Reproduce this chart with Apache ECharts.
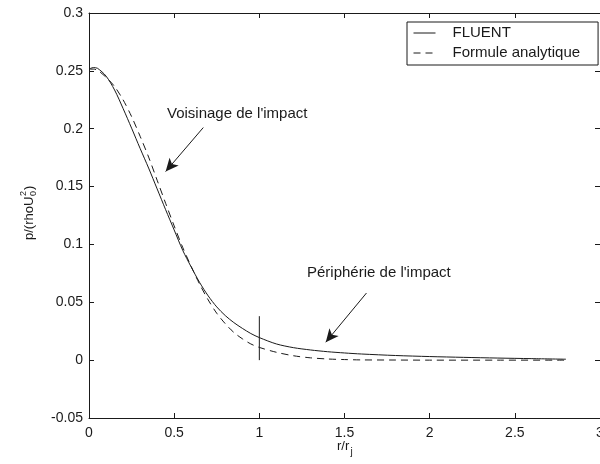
<!DOCTYPE html>
<html>
<head>
<meta charset="utf-8">
<script src="https://cdn.jsdelivr.net/npm/echarts@6/dist/echarts.min.js"></script>
<style>html,body{margin:0;padding:0;background:#fff}#c{width:600px;height:464px}</style>
</head>
<body>
<div id="c"></div>
<script>
// r/rj sample positions
const rFluent = [0,0.025,0.05,0.1,0.15,0.2,0.25,0.3,0.35,0.4,0.45,0.5,0.55,0.6,0.65,0.7,0.75,0.8,0.85,0.9,0.95,1.0,1.1,1.2,1.3,1.4,1.5,1.6,1.8,2.0,2.2,2.4,2.6,2.8];
const pFluent = [0.2515,0.2528,0.2522,0.2455,0.2335,0.2175,0.2005,0.1830,0.1660,0.1480,0.1300,0.1125,0.0950,0.0805,0.0670,0.0555,0.0460,0.0385,0.0325,0.0275,0.0230,0.0195,0.0140,0.0108,0.0088,0.0073,0.0062,0.0053,0.0040,0.0031,0.0024,0.0018,0.0013,0.0008];
const rAnalytique = [0,0.025,0.05,0.1,0.15,0.2,0.25,0.3,0.35,0.4,0.45,0.5,0.55,0.6,0.65,0.7,0.75,0.8,0.85,0.9,0.95,1.0,1.1,1.2,1.3,1.4,1.5,1.6,1.8,2.0,2.4,2.8];
const pAnalytique = [0.2515,0.2515,0.2505,0.2445,0.2365,0.2250,0.2105,0.1935,0.1755,0.1555,0.1355,0.1160,0.0975,0.0810,0.0655,0.0520,0.0405,0.0315,0.0240,0.0185,0.0140,0.0110,0.0068,0.0038,0.0020,0.0010,0.0005,0.0002,0.0001,0,0,0];
const markerR = [1, 1];
const markerP = [0, 0.038];
const seriesNames = ['FLUENT', 'Formule analytique'];
const xTicks = {min: 0, max: 3, interval: 0.5};
const yTicks = {min: -0.05, max: 0.3, interval: 0.05};

const zip = (a, b) => a.map((v, i) => [v, b[i]]);
const FONT = '"Liberation Sans", Arial, sans-serif';
const INK = '#1a1a1a';

const chart = echarts.init(document.getElementById('c'), null, {renderer: 'canvas'});
const baseAxis = {
  axisLine: {show: true, onZero: false, lineStyle: {color: INK, width: 1}},
  axisTick: {show: true, inside: true, length: 5, lineStyle: {color: INK}},
  splitLine: {show: false},
  axisLabel: {color: INK, fontFamily: FONT, fontSize: 14}
};
chart.setOption({
  animation: false,
  backgroundColor: '#fff',
  grid: {left: 89, top: 13, width: 511, height: 405, containLabel: false, outerBoundsMode: 'none'},
  xAxis: [
    Object.assign({}, baseAxis, {type: 'value', position: 'bottom', min: xTicks.min, max: xTicks.max, interval: xTicks.interval,
      axisLabel: Object.assign({}, baseAxis.axisLabel, {margin: 8})}),
    Object.assign({}, baseAxis, {type: 'value', position: 'top', min: xTicks.min, max: xTicks.max, interval: xTicks.interval,
      axisLabel: {show: false}})
  ],
  yAxis: [
    Object.assign({}, baseAxis, {type: 'value', position: 'left', min: yTicks.min, max: yTicks.max, interval: yTicks.interval,
      axisLabel: Object.assign({}, baseAxis.axisLabel, {margin: 6})}),
    Object.assign({}, baseAxis, {type: 'value', position: 'right', min: yTicks.min, max: yTicks.max, interval: yTicks.interval,
      axisLabel: {show: false}})
  ],
  legend: {
    data: seriesNames,
    orient: 'vertical',
    left: 407, top: 22,
    backgroundColor: '#fff',
    borderColor: INK, borderWidth: 1, borderRadius: 0,
    padding: [3, 18, 4, 6],
    itemGap: 4,
    itemWidth: 22, itemHeight: 8,
    itemStyle: {opacity: 0},
    lineStyle: {width: 1},
    textStyle: {fontFamily: FONT, fontSize: 15, color: INK, lineHeight: 16, padding: [0, 0, 0, 12]}
  },
  series: [
    {name: seriesNames[0], type: 'line', data: zip(rFluent, pFluent), symbol: 'none', smooth: 0.3,
      lineStyle: {color: INK, width: 1}, itemStyle: {color: INK}, z: 3},
    {name: seriesNames[1], type: 'line', data: zip(rAnalytique, pAnalytique), symbol: 'none', smooth: 0.3,
      lineStyle: {color: INK, width: 1, type: [7, 5]}, itemStyle: {color: INK}, z: 3},
    {name: 'r = rj', type: 'line', data: zip(markerR, markerP), symbol: 'none',
      lineStyle: {color: INK, width: 1}, z: 4,
      markLine: {
        silent: true, symbolSize: [9, 13],
        lineStyle: {color: INK, width: 1, type: 'solid'},
        label: {show: false},
        data: [
          [{coord: [0.671, 0.201], symbol: 'none'}, {coord: [0.45, 0.163], symbol: 'arrow'}],
          [{coord: [1.629, 0.058], symbol: 'none'}, {coord: [1.39, 0.0155], symbol: 'arrow'}]
        ]
      }}
  ],
  graphic: [
    {type: 'text', left: 167, top: 106, style: {text: "Voisinage de l'impact", font: '15px ' + FONT, fill: INK}},
    {type: 'text', left: 307, top: 265, style: {text: "Périphérie de l'impact", font: '15px ' + FONT, fill: INK}},
    {type: 'group', x: 337, y: 446, children: [
      {type: 'text', x: 0, y: 0, style: {text: 'r/r', font: '13px ' + FONT, fill: INK, verticalAlign: 'middle'}},
      {type: 'text', x: 13.5, y: 6, style: {text: 'j', font: '10px ' + FONT, fill: INK, verticalAlign: 'middle'}}
    ]},
    {type: 'group', x: 29, y: 240, rotation: Math.PI / 2, children: [
      {type: 'text', x: 0, y: 0, style: {text: 'p/(rhoU', font: '13px ' + FONT, fill: INK, verticalAlign: 'middle'}},
      {type: 'text', x: 44, y: -5, style: {text: '2', font: '9px ' + FONT, fill: INK, verticalAlign: 'middle'}},
      {type: 'text', x: 44, y: 5, style: {text: '0', font: '9px ' + FONT, fill: INK, verticalAlign: 'middle'}},
      {type: 'text', x: 50, y: 0, style: {text: ')', font: '13px ' + FONT, fill: INK, verticalAlign: 'middle'}}
    ]}
  ]
});
</script>
</body>
</html>
